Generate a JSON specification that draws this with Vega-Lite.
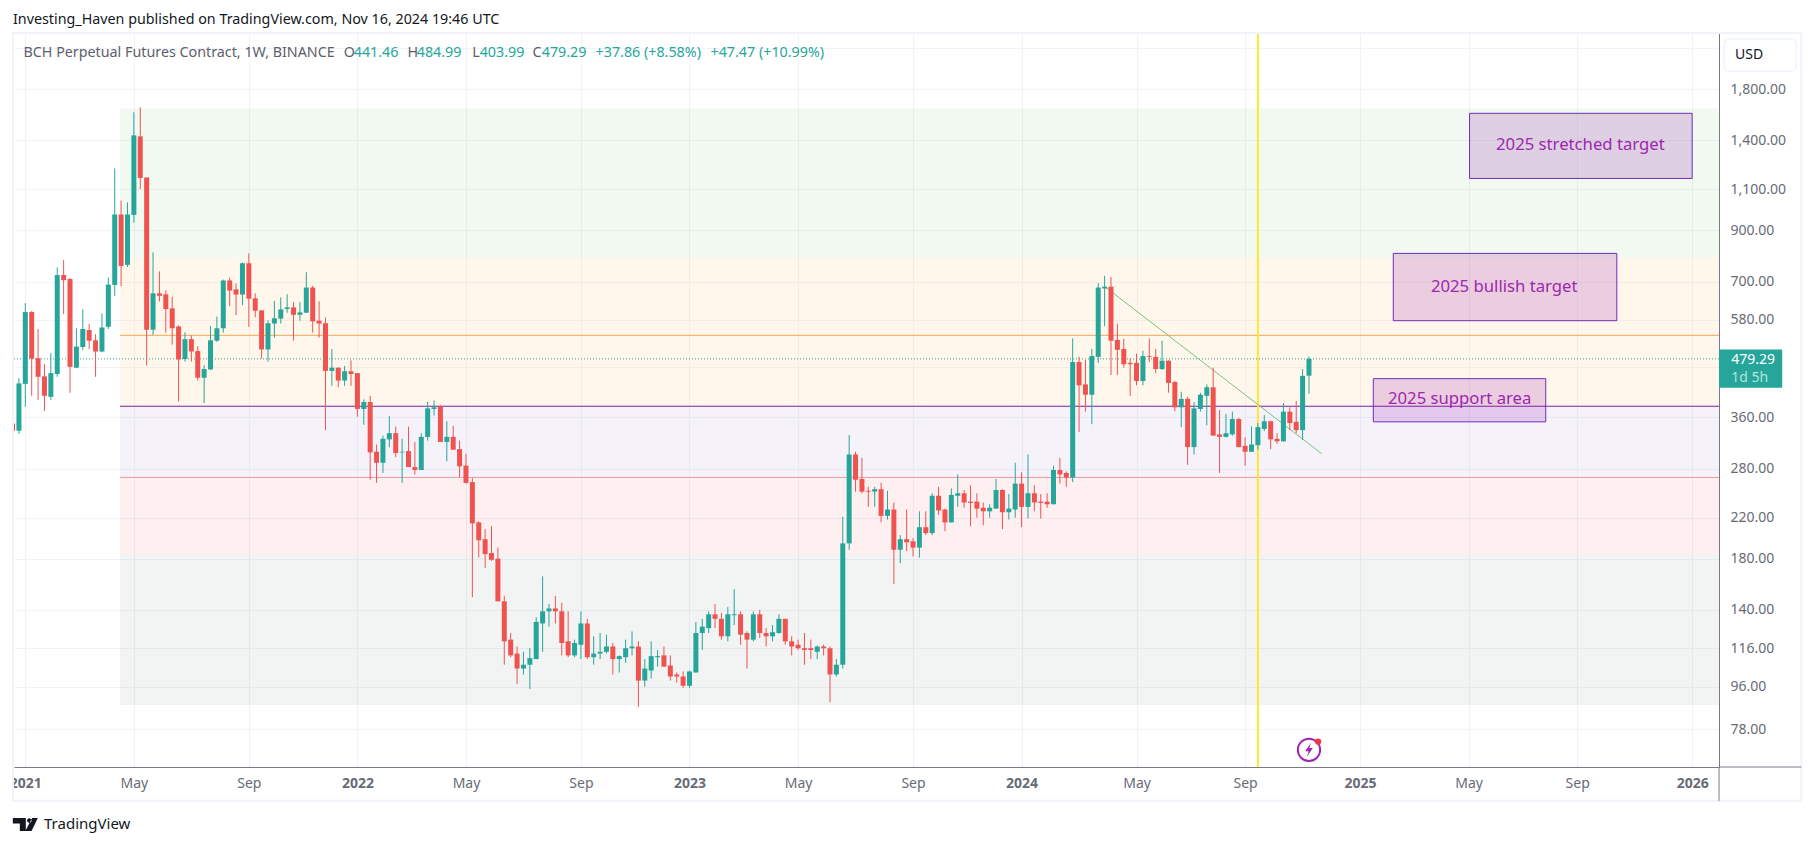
{
"$schema":"https://vega.github.io/schema/vega-lite/v6.json",
"width":1705,"height":734,
"autosize":{"type":"none"},
"padding":{"left":14,"top":33,"right":95,"bottom":79},
"background":"#ffffff",
"view":{"stroke":null},
"config":{"font":"Noto Sans","axis":{"labelFont":"Noto Sans"},"text":{"font":"Noto Sans"}},
"resolve":{"scale":{"color":"independent"}},
"datasets":{
"candles":[
{"d":"2020-12-21","o":349,"h":349,"l":337,"c":337,"s":"d"},
{"d":"2020-12-28","o":337,"h":436,"l":332,"c":425,"s":"u"},
{"d":"2021-01-04","o":424,"h":630,"l":379,"c":603,"s":"u"},
{"d":"2021-01-11","o":603,"h":606,"l":400,"c":480,"s":"d"},
{"d":"2021-01-18","o":481,"h":555,"l":392,"c":439,"s":"d"},
{"d":"2021-01-25","o":440,"h":467,"l":371,"c":400,"s":"d"},
{"d":"2021-02-01","o":398,"h":493,"l":392,"c":447,"s":"u"},
{"d":"2021-02-08","o":445,"h":750,"l":439,"c":723,"s":"u"},
{"d":"2021-02-15","o":723,"h":778,"l":597,"c":705,"s":"d"},
{"d":"2021-02-22","o":709,"h":712,"l":406,"c":461,"s":"d"},
{"d":"2021-03-01","o":459,"h":557,"l":459,"c":509,"s":"u"},
{"d":"2021-03-08","o":508,"h":611,"l":501,"c":555,"s":"u"},
{"d":"2021-03-15","o":552,"h":569,"l":503,"c":524,"s":"d"},
{"d":"2021-03-22","o":525,"h":541,"l":439,"c":497,"s":"d"},
{"d":"2021-03-29","o":497,"h":599,"l":495,"c":559,"s":"u"},
{"d":"2021-04-05","o":561,"h":714,"l":555,"c":690,"s":"u"},
{"d":"2021-04-12","o":689,"h":1220,"l":653,"c":973,"s":"u"},
{"d":"2021-04-19","o":973,"h":1042,"l":685,"c":756,"s":"d"},
{"d":"2021-04-26","o":760,"h":1032,"l":752,"c":973,"s":"u"},
{"d":"2021-05-03","o":971,"h":1606,"l":935,"c":1434,"s":"u"},
{"d":"2021-05-10","o":1427,"h":1645,"l":1102,"c":1164,"s":"d"},
{"d":"2021-05-17","o":1166,"h":1166,"l":464,"c":553,"s":"d"},
{"d":"2021-05-24","o":553,"h":808,"l":539,"c":661,"s":"u"},
{"d":"2021-05-31","o":661,"h":736,"l":635,"c":653,"s":"d"},
{"d":"2021-06-07","o":658,"h":671,"l":545,"c":612,"s":"d"},
{"d":"2021-06-14","o":614,"h":650,"l":514,"c":557,"s":"d"},
{"d":"2021-06-21","o":562,"h":565,"l":389,"c":478,"s":"d"},
{"d":"2021-06-28","o":479,"h":546,"l":473,"c":528,"s":"u"},
{"d":"2021-07-05","o":528,"h":538,"l":473,"c":497,"s":"d"},
{"d":"2021-07-12","o":498,"h":510,"l":431,"c":437,"s":"d"},
{"d":"2021-07-19","o":437,"h":465,"l":386,"c":456,"s":"u"},
{"d":"2021-07-26","o":455,"h":563,"l":455,"c":525,"s":"u"},
{"d":"2021-08-02","o":524,"h":590,"l":521,"c":557,"s":"u"},
{"d":"2021-08-09","o":557,"h":707,"l":545,"c":704,"s":"u"},
{"d":"2021-08-16","o":704,"h":714,"l":621,"c":670,"s":"d"},
{"d":"2021-08-23","o":674,"h":694,"l":594,"c":657,"s":"d"},
{"d":"2021-08-30","o":657,"h":769,"l":624,"c":766,"s":"u"},
{"d":"2021-09-06","o":766,"h":804,"l":561,"c":644,"s":"d"},
{"d":"2021-09-13","o":645,"h":661,"l":588,"c":607,"s":"d"},
{"d":"2021-09-20","o":608,"h":609,"l":480,"c":502,"s":"d"},
{"d":"2021-09-27","o":502,"h":579,"l":473,"c":571,"s":"u"},
{"d":"2021-10-04","o":570,"h":637,"l":532,"c":585,"s":"u"},
{"d":"2021-10-11","o":584,"h":648,"l":570,"c":611,"s":"u"},
{"d":"2021-10-18","o":612,"h":658,"l":601,"c":617,"s":"u"},
{"d":"2021-10-25","o":617,"h":633,"l":524,"c":595,"s":"d"},
{"d":"2021-11-01","o":595,"h":633,"l":578,"c":602,"s":"u"},
{"d":"2021-11-08","o":601,"h":733,"l":601,"c":680,"s":"u"},
{"d":"2021-11-15","o":680,"h":686,"l":545,"c":576,"s":"d"},
{"d":"2021-11-22","o":578,"h":636,"l":532,"c":570,"s":"d"},
{"d":"2021-11-29","o":571,"h":587,"l":338,"c":452,"s":"d"},
{"d":"2021-12-06","o":452,"h":503,"l":420,"c":459,"s":"u"},
{"d":"2021-12-13","o":459,"h":460,"l":417,"c":431,"s":"d"},
{"d":"2021-12-20","o":431,"h":463,"l":420,"c":451,"s":"u"},
{"d":"2021-12-27","o":451,"h":476,"l":420,"c":445,"s":"d"},
{"d":"2022-01-03","o":447,"h":447,"l":361,"c":375,"s":"d"},
{"d":"2022-01-10","o":375,"h":393,"l":347,"c":388,"s":"u"},
{"d":"2022-01-17","o":388,"h":400,"l":265,"c":303,"s":"d"},
{"d":"2022-01-24","o":304,"h":315,"l":261,"c":288,"s":"d"},
{"d":"2022-01-31","o":288,"h":329,"l":274,"c":324,"s":"u"},
{"d":"2022-02-07","o":323,"h":362,"l":311,"c":333,"s":"u"},
{"d":"2022-02-14","o":333,"h":344,"l":296,"c":302,"s":"d"},
{"d":"2022-02-21","o":303,"h":324,"l":261,"c":304,"s":"u"},
{"d":"2022-02-28","o":305,"h":344,"l":282,"c":282,"s":"d"},
{"d":"2022-03-07","o":282,"h":319,"l":272,"c":278,"s":"d"},
{"d":"2022-03-14","o":278,"h":333,"l":278,"c":327,"s":"u"},
{"d":"2022-03-21","o":327,"h":388,"l":321,"c":376,"s":"u"},
{"d":"2022-03-28","o":375,"h":391,"l":363,"c":378,"s":"u"},
{"d":"2022-04-04","o":379,"h":382,"l":319,"c":319,"s":"d"},
{"d":"2022-04-11","o":319,"h":353,"l":290,"c":327,"s":"u"},
{"d":"2022-04-18","o":327,"h":345,"l":307,"c":307,"s":"d"},
{"d":"2022-04-25","o":308,"h":321,"l":268,"c":283,"s":"d"},
{"d":"2022-05-02","o":284,"h":301,"l":260,"c":261,"s":"d"},
{"d":"2022-05-09","o":262,"h":267,"l":149,"c":214,"s":"d"},
{"d":"2022-05-16","o":215,"h":216,"l":181,"c":197,"s":"d"},
{"d":"2022-05-23","o":198,"h":208,"l":172,"c":184,"s":"d"},
{"d":"2022-05-30","o":185,"h":211,"l":178,"c":179,"s":"d"},
{"d":"2022-06-06","o":180,"h":190,"l":146,"c":146,"s":"d"},
{"d":"2022-06-13","o":146,"h":150,"l":107,"c":120,"s":"d"},
{"d":"2022-06-20","o":121,"h":125,"l":111,"c":112,"s":"d"},
{"d":"2022-06-27","o":113,"h":117,"l":97.4,"c":105,"s":"d"},
{"d":"2022-07-04","o":105,"h":114,"l":102,"c":107,"s":"u"},
{"d":"2022-07-11","o":107,"h":116,"l":95,"c":110.5,"s":"u"},
{"d":"2022-07-18","o":110,"h":135,"l":110,"c":132,"s":"u"},
{"d":"2022-07-25","o":131,"h":165,"l":114,"c":139,"s":"u"},
{"d":"2022-08-01","o":139,"h":144,"l":129,"c":141,"s":"u"},
{"d":"2022-08-08","o":141,"h":150,"l":131,"c":139,"s":"d"},
{"d":"2022-08-15","o":139,"h":145,"l":112,"c":119,"s":"d"},
{"d":"2022-08-22","o":120,"h":139,"l":111,"c":112,"s":"d"},
{"d":"2022-08-29","o":112,"h":121,"l":111,"c":119,"s":"u"},
{"d":"2022-09-05","o":118,"h":139,"l":110,"c":131,"s":"u"},
{"d":"2022-09-12","o":131,"h":134,"l":110,"c":111,"s":"d"},
{"d":"2022-09-19","o":111,"h":123,"l":107,"c":113,"s":"u"},
{"d":"2022-09-26","o":113,"h":125,"l":110,"c":114,"s":"u"},
{"d":"2022-10-03","o":114,"h":124,"l":113,"c":117,"s":"u"},
{"d":"2022-10-10","o":117,"h":119,"l":102,"c":110,"s":"d"},
{"d":"2022-10-17","o":110,"h":112,"l":103,"c":111.6,"s":"u"},
{"d":"2022-10-24","o":111,"h":121,"l":108,"c":116,"s":"u"},
{"d":"2022-10-31","o":116,"h":126,"l":112,"c":117,"s":"u"},
{"d":"2022-11-07","o":117,"h":120,"l":87,"c":99,"s":"d"},
{"d":"2022-11-14","o":99,"h":110,"l":96,"c":105,"s":"u"},
{"d":"2022-11-21","o":104,"h":120,"l":100,"c":111.6,"s":"u"},
{"d":"2022-11-28","o":111,"h":115,"l":106,"c":111.6,"s":"u"},
{"d":"2022-12-05","o":112,"h":117,"l":106,"c":106,"s":"d"},
{"d":"2022-12-12","o":106.6,"h":112,"l":99,"c":101,"s":"d"},
{"d":"2022-12-19","o":102,"h":103,"l":98,"c":101,"s":"d"},
{"d":"2022-12-26","o":101,"h":103.5,"l":95.5,"c":96.5,"s":"d"},
{"d":"2023-01-02","o":96.5,"h":104,"l":95.5,"c":103.5,"s":"u"},
{"d":"2023-01-09","o":103,"h":132,"l":103,"c":125,"s":"u"},
{"d":"2023-01-16","o":125,"h":134,"l":115,"c":129,"s":"u"},
{"d":"2023-01-23","o":128,"h":139,"l":125,"c":137,"s":"u"},
{"d":"2023-01-30","o":137,"h":144,"l":128,"c":134,"s":"d"},
{"d":"2023-02-06","o":134,"h":138,"l":121,"c":123,"s":"d"},
{"d":"2023-02-13","o":123,"h":142,"l":120,"c":137,"s":"u"},
{"d":"2023-02-20","o":136.4,"h":155,"l":130,"c":137,"s":"u"},
{"d":"2023-02-27","o":137,"h":139,"l":118,"c":124,"s":"d"},
{"d":"2023-03-06","o":125,"h":126,"l":105,"c":121,"s":"d"},
{"d":"2023-03-13","o":121,"h":139,"l":120,"c":137,"s":"u"},
{"d":"2023-03-20","o":137,"h":140,"l":122,"c":125,"s":"d"},
{"d":"2023-03-27","o":125,"h":128,"l":117,"c":123,"s":"d"},
{"d":"2023-04-03","o":123,"h":130,"l":120,"c":125.5,"s":"u"},
{"d":"2023-04-10","o":125,"h":137,"l":124.5,"c":134,"s":"u"},
{"d":"2023-04-17","o":134,"h":134,"l":118,"c":120,"s":"d"},
{"d":"2023-04-24","o":120,"h":123,"l":112,"c":117,"s":"d"},
{"d":"2023-05-01","o":118,"h":121,"l":115,"c":116,"s":"d"},
{"d":"2023-05-08","o":116,"h":125,"l":107,"c":115,"s":"d"},
{"d":"2023-05-15","o":116,"h":121,"l":110,"c":115,"s":"d"},
{"d":"2023-05-22","o":114,"h":117.5,"l":110,"c":117,"s":"u"},
{"d":"2023-05-29","o":117,"h":118,"l":112,"c":116,"s":"d"},
{"d":"2023-06-05","o":116,"h":117,"l":89,"c":102,"s":"d"},
{"d":"2023-06-12","o":102,"h":110,"l":101,"c":107,"s":"u"},
{"d":"2023-06-19","o":107,"h":221,"l":105,"c":194,"s":"u"},
{"d":"2023-06-26","o":194,"h":330,"l":188,"c":300,"s":"u"},
{"d":"2023-07-03","o":300,"h":304,"l":250,"c":265,"s":"d"},
{"d":"2023-07-10","o":266,"h":295,"l":248,"c":250,"s":"d"},
{"d":"2023-07-17","o":251,"h":256,"l":232,"c":250,"s":"d"},
{"d":"2023-07-24","o":250,"h":256,"l":232,"c":253,"s":"u"},
{"d":"2023-07-31","o":253,"h":261,"l":215,"c":222,"s":"d"},
{"d":"2023-08-07","o":222,"h":251,"l":218,"c":229,"s":"u"},
{"d":"2023-08-14","o":229,"h":237,"l":159,"c":188,"s":"d"},
{"d":"2023-08-21","o":188,"h":202,"l":176,"c":198,"s":"u"},
{"d":"2023-08-28","o":198,"h":229,"l":187,"c":195,"s":"d"},
{"d":"2023-09-04","o":196,"h":199,"l":182,"c":190,"s":"d"},
{"d":"2023-09-11","o":190,"h":227,"l":181,"c":210,"s":"u"},
{"d":"2023-09-18","o":210,"h":227,"l":202,"c":204,"s":"d"},
{"d":"2023-09-25","o":204,"h":248,"l":202,"c":245,"s":"u"},
{"d":"2023-10-02","o":245,"h":256,"l":223,"c":228,"s":"d"},
{"d":"2023-10-09","o":229,"h":230,"l":206,"c":215,"s":"d"},
{"d":"2023-10-16","o":215,"h":254,"l":215,"c":246,"s":"u"},
{"d":"2023-10-23","o":245,"h":272,"l":232,"c":248,"s":"u"},
{"d":"2023-10-30","o":248,"h":252,"l":231,"c":237,"s":"d"},
{"d":"2023-11-06","o":238,"h":258,"l":211,"c":236.5,"s":"d"},
{"d":"2023-11-13","o":238,"h":248,"l":220,"c":230,"s":"d"},
{"d":"2023-11-20","o":231,"h":237,"l":212,"c":227,"s":"d"},
{"d":"2023-11-27","o":227,"h":235,"l":220,"c":231,"s":"u"},
{"d":"2023-12-04","o":230,"h":266,"l":230,"c":252,"s":"u"},
{"d":"2023-12-11","o":252,"h":253,"l":208,"c":226,"s":"d"},
{"d":"2023-12-18","o":226,"h":247,"l":218,"c":230,"s":"u"},
{"d":"2023-12-25","o":229,"h":288,"l":220,"c":260,"s":"u"},
{"d":"2024-01-01","o":260,"h":275,"l":210,"c":232,"s":"d"},
{"d":"2024-01-08","o":232,"h":300,"l":219,"c":248,"s":"u"},
{"d":"2024-01-15","o":248,"h":258,"l":227,"c":237,"s":"d"},
{"d":"2024-01-22","o":238,"h":247,"l":219,"c":236.5,"s":"d"},
{"d":"2024-01-29","o":238,"h":248,"l":231,"c":235,"s":"d"},
{"d":"2024-02-05","o":235,"h":284,"l":235,"c":278,"s":"u"},
{"d":"2024-02-12","o":278,"h":295,"l":260,"c":272,"s":"d"},
{"d":"2024-02-19","o":274,"h":276,"l":256,"c":268,"s":"d"},
{"d":"2024-02-26","o":268,"h":530,"l":262,"c":472,"s":"u"},
{"d":"2024-03-04","o":472,"h":484,"l":335,"c":421,"s":"d"},
{"d":"2024-03-11","o":423,"h":477,"l":370,"c":402,"s":"d"},
{"d":"2024-03-18","o":402,"h":503,"l":348,"c":486,"s":"u"},
{"d":"2024-03-25","o":484,"h":695,"l":470,"c":680,"s":"u"},
{"d":"2024-04-01","o":677,"h":720,"l":563,"c":683,"s":"u"},
{"d":"2024-04-08","o":683,"h":716,"l":443,"c":524,"s":"d"},
{"d":"2024-04-15","o":526,"h":569,"l":443,"c":501,"s":"d"},
{"d":"2024-04-22","o":503,"h":529,"l":459,"c":467,"s":"d"},
{"d":"2024-04-29","o":470,"h":481,"l":400,"c":467,"s":"d"},
{"d":"2024-05-06","o":470,"h":492,"l":421,"c":430,"s":"d"},
{"d":"2024-05-13","o":430,"h":499,"l":421,"c":486,"s":"u"},
{"d":"2024-05-20","o":486,"h":530,"l":472,"c":484,"s":"d"},
{"d":"2024-05-27","o":484,"h":503,"l":447,"c":456,"s":"d"},
{"d":"2024-06-03","o":456,"h":524,"l":454,"c":475,"s":"u"},
{"d":"2024-06-10","o":475,"h":476,"l":406,"c":426,"s":"d"},
{"d":"2024-06-17","o":428,"h":430,"l":371,"c":378,"s":"d"},
{"d":"2024-06-24","o":378,"h":408,"l":343,"c":394,"s":"u"},
{"d":"2024-07-01","o":394,"h":398,"l":285,"c":311,"s":"d"},
{"d":"2024-07-08","o":311,"h":388,"l":300,"c":376,"s":"u"},
{"d":"2024-07-15","o":375,"h":406,"l":370,"c":402,"s":"u"},
{"d":"2024-07-22","o":400,"h":423,"l":346,"c":417,"s":"u"},
{"d":"2024-07-29","o":417,"h":459,"l":329,"c":329,"s":"d"},
{"d":"2024-08-05","o":331,"h":373,"l":274,"c":327,"s":"d"},
{"d":"2024-08-12","o":327,"h":366,"l":326,"c":333,"s":"u"},
{"d":"2024-08-19","o":331,"h":370,"l":329,"c":357,"s":"u"},
{"d":"2024-08-26","o":357,"h":359,"l":311,"c":311,"s":"d"},
{"d":"2024-09-02","o":313,"h":326,"l":284,"c":304,"s":"d"},
{"d":"2024-09-09","o":304,"h":344,"l":304,"c":315,"s":"u"},
{"d":"2024-09-16","o":314,"h":350,"l":307,"c":343,"s":"u"},
{"d":"2024-09-23","o":340,"h":364,"l":336,"c":353,"s":"u"},
{"d":"2024-09-30","o":353,"h":354,"l":308,"c":323,"s":"d"},
{"d":"2024-10-07","o":324,"h":333,"l":316,"c":320,"s":"d"},
{"d":"2024-10-14","o":320,"h":386,"l":319,"c":370,"s":"u"},
{"d":"2024-10-21","o":370,"h":378,"l":338,"c":350,"s":"d"},
{"d":"2024-10-28","o":352,"h":390,"l":333,"c":338,"s":"d"},
{"d":"2024-11-04","o":338,"h":456,"l":322,"c":441,"s":"u"},
{"d":"2024-11-11","o":441.46,"h":484.99,"l":403.99,"c":479.29,"s":"u"}
]
},
"encoding":{
"x":{"field":"d","type":"temporal","scale":{"type":"utc","padding":0,"domain":["2020-12-22T14:24:00Z","2026-02-03T10:00:00Z"]},
 "axis":{"title":null,"orient":"bottom","values":["2021-01-04","2021-05-03","2021-09-06","2022-01-03","2022-05-02","2022-09-05","2023-01-02","2023-05-01","2023-09-04","2024-01-01","2024-05-06","2024-09-02","2025-01-06","2025-05-05","2025-09-01","2026-01-05"],
 "labelExpr":"utcmonth(datum.value)==0?utcFormat(datum.value,'%Y'):utcFormat(datum.value,'%b')",
 "labelFontWeight":{"condition":{"test":"utcmonth(datum.value)==0","value":"bold"},"value":"normal"},
 "labelColor":"#686b76","labelFontSize":14,"labelPadding":9,"ticks":false,"domain":true,"domainColor":"#787b86","domainWidth":1,"grid":true,"gridColor":"#f0f3fa","gridWidth":1,"labelOverlap":false,"labelFlush":false,"labelBound":false}},
"y":{"field":"p","type":"quantitative","scale":{"type":"log","domain":[64.8,2369],"nice":false,"zero":false},
 "axis":{"title":null,"orient":"right","values":[78,96,116,140,180,220,280,360,460,580,700,900,1100,1400,1800,2200],
 "labelExpr":"(datum.value==460||datum.value==2200)?'':format(datum.value,',.2f')",
 "labelColor":"#686b76","labelFontSize":14,"labelPadding":11,"ticks":false,"domain":true,"domainColor":"#787b86","domainWidth":1,"grid":true,"gridColor":"#f0f3fa","gridWidth":1,"labelOverlap":false,"labelFlush":false,"labelBound":false}}
},
"layer":[
{"data":{"values":[
{"zone":"stretched","d":"2021-04-17T19:00:00Z","d2":"2026-02-03T10:00:00Z","p":1637,"p2":788},
{"zone":"bullish","d":"2021-04-17T19:00:00Z","d2":"2026-02-03T10:00:00Z","p":788,"p2":380},
{"zone":"support","d":"2021-04-17T19:00:00Z","d2":"2026-02-03T10:00:00Z","p":380,"p2":268},
{"zone":"risk","d":"2021-04-17T19:00:00Z","d2":"2026-02-03T10:00:00Z","p":268,"p2":183.7},
{"zone":"base","d":"2021-04-17T19:00:00Z","d2":"2026-02-03T10:00:00Z","p":183.7,"p2":87.8}]},
"mark":{"type":"rect","fillOpacity":0.08,"strokeOpacity":0.08,"strokeWidth":1},
"encoding":{"x2":{"field":"d2"},"y2":{"field":"p2"},
"color":{"field":"zone","type":"nominal","legend":null,"scale":{"domain":["stretched","bullish","support","risk","base"],"range":["#4caf50","#ff9800","#7e57c2","#f23645","#5d606b"]}}}},
{"data":{"values":[
{"level":"resistance","d":"2021-04-17T19:00:00Z","d2":"2026-02-03T10:00:00Z","p":538},
{"level":"support","d":"2021-04-17T19:00:00Z","d2":"2026-02-03T10:00:00Z","p":380},
{"level":"floor","d":"2021-04-17T19:00:00Z","d2":"2026-02-03T10:00:00Z","p":268}]},
"mark":{"type":"rule","strokeWidth":1},
"encoding":{"x2":{"field":"d2"},
"color":{"field":"level","type":"nominal","legend":null,"scale":{"domain":["resistance","support","floor"],"range":["#f2a65a","#7b1fa2","#f09aa0"]}}}},
{"data":{"values":[{"d":"2024-09-16","p":64.8,"p2":2369}]},"mark":{"type":"rule","color":"#fde82f","strokeWidth":2},"encoding":{"y2":{"field":"p2"}}},
{"data":{"values":[{"d":"2024-04-02T12:00:00Z","p":680},{"d":"2024-11-25","p":301}]},"mark":{"type":"line","color":"#7cc27a","strokeWidth":1}},
{"data":{"values":[{"d":"2020-12-22T14:24:00Z","d2":"2026-02-03T10:00:00Z","p":479.29}]},"mark":{"type":"rule","color":"#26a69a","strokeWidth":1,"strokeDash":[1,2]},"encoding":{"x2":{"field":"d2"}}},
{"data":{"name":"candles"},"mark":{"type":"rule","strokeWidth":1,"clip":true},
"encoding":{"y":{"field":"l","type":"quantitative","axis":{"title":null}},"y2":{"field":"h"},
"color":{"field":"s","type":"nominal","legend":null,"scale":{"domain":["u","d"],"range":["#26a69a","#ef5350"]}}}},
{"data":{"name":"candles"},"mark":{"type":"bar","size":5,"clip":true},
"encoding":{"y":{"field":"o","type":"quantitative","axis":{"title":null}},"y2":{"field":"c"},
"color":{"field":"s","type":"nominal","legend":null,"scale":{"domain":["u","d"],"range":["#26a69a","#ef5350"]}}}},
{"data":{"values":[
{"d":"2025-05-06T00:00:00Z","d2":"2026-01-05","p":1598,"p2":1161},
{"d":"2025-02-11T10:00:00Z","d2":"2025-10-14T10:00:00Z","p":804,"p2":578},
{"d":"2025-01-20T12:00:00Z","d2":"2025-07-28T12:00:00Z","p":435,"p2":352}]},
"mark":{"type":"rect","fill":"#9c27b0","fillOpacity":0.2,"stroke":"#6f2dbd","strokeWidth":1},
"encoding":{"x2":{"field":"d2"},"y2":{"field":"p2"}}},
{"data":{"values":[
{"t":"2025 stretched target","d":"2025-09-04T12:00:00Z","p":1368},
{"t":"2025 bullish target","d":"2025-06-13T00:00:00Z","p":682},
{"t":"2025 support area","d":"2025-04-25T05:00:00Z","p":393}]},
"mark":{"type":"text","fontSize":16.7,"color":"#9c27b0","align":"center","baseline":"middle"},
"encoding":{"text":{"field":"t"}}},
{"data":{"values":[{"d":"2026-02-03T10:00:00Z","d2":"2026-04-13T17:00:00Z","p":502,"p2":416}]},
"mark":{"type":"rect","fill":"#26a69a","cornerRadius":1},"encoding":{"x2":{"field":"d2"},"y2":{"field":"p2"}}},
{"data":{"values":[{"t":"479.29","d":"2026-02-16T17:00:00Z","p":477}]},
"mark":{"type":"text","fontSize":14,"color":"#ffffff","align":"left","baseline":"middle"},"encoding":{"text":{"field":"t"}}},
{"data":{"values":[{"t":"1d 5h","d":"2026-02-16T17:00:00Z","p":437}]},
"mark":{"type":"text","fontSize":14,"color":"#b6e3de","align":"left","baseline":"middle"},"encoding":{"text":{"field":"t"}}},
{"data":{"values":[{"d":"2026-02-09","d2":"2026-04-29","p":2299,"p2":1966}]},
"mark":{"type":"rect","fill":"#ffffff","stroke":"#f0f3fa","strokeWidth":1.5,"cornerRadius":5},"encoding":{"x2":{"field":"d2"},"y2":{"field":"p2"}}},
{"data":{"values":[{"t":"USD","d":"2026-02-21","p":2131}]},
"mark":{"type":"text","fontSize":14,"color":"#131722","align":"left","baseline":"middle"},"encoding":{"text":{"field":"t"}}},
{"data":{"values":[{"t":"Investing_Haven published on TradingView.com, Nov 16, 2024 19:46 UTC","d":"2020-12-21T12:00:00Z","p":2524}]},
"mark":{"type":"text","fontSize":14.3,"color":"#131722","align":"left","baseline":"middle"},"encoding":{"text":{"field":"t"}}},
{"data":{"values":[
{"t":"BCH Perpetual Futures Contract, 1W, BINANCE","d":"2021-01-02","p":2147},
{"t":"O","d":"2021-12-19","p":2147},{"t":"H","d":"2022-02-27","p":2147},{"t":"L","d":"2022-05-09","p":2147},{"t":"C","d":"2022-07-14","p":2147}]},
"mark":{"type":"text","fontSize":14.3,"color":"#5d606b","align":"left","baseline":"middle"},"encoding":{"text":{"field":"t"}}},
{"data":{"values":[
{"t":"441.46","d":"2021-12-30","p":2147},{"t":"484.99","d":"2022-03-09","p":2147},{"t":"403.99","d":"2022-05-17","p":2147},{"t":"479.29","d":"2022-07-24","p":2147},
{"t":"+37.86 (+8.58%)","d":"2022-09-21","p":2147},{"t":"+47.47 (+10.99%)","d":"2023-01-25","p":2147}]},
"mark":{"type":"text","fontSize":14.3,"color":"#26a69a","align":"left","baseline":"middle"},"encoding":{"text":{"field":"t"}}},
{"data":{"values":[{"d":"2024-11-11","p":70.5}]},"mark":{"type":"point","shape":"circle","size":500,"filled":false,"color":"#9c27b0","strokeWidth":2,"opacity":1}},
{"data":{"values":[{"d":"2024-11-11","p":70.5}]},"mark":{"type":"point","shape":"M0.3 -1 L-0.55 0.2 L-0.05 0.2 L-0.3 1 L0.55 -0.25 L0.05 -0.25 Z","size":196,"filled":true,"color":"#9c27b0","opacity":1}},
{"data":{"values":[{"d":"2024-11-21","p":73.4}]},"mark":{"type":"point","shape":"circle","size":40,"filled":true,"color":"#f23645","opacity":1}},
{"data":{"values":[{"d":"2021-01-04","p":48.9}]},"mark":{"type":"point","shape":"M-1 -0.52 H0.04 V0.52 H-0.44 V-0.08 H-1 Z M0.14 -0.32 A0.18 0.18 0 1 0 0.5 -0.32 A0.18 0.18 0 1 0 0.14 -0.32 Z M0.55 -0.52 H1 L0.5 0.52 H0 Z","size":625,"filled":true,"color":"#131722","opacity":1}},
{"data":{"values":[{"t":"TradingView","d":"2021-01-24T12:00:00Z","p":48.9}]},
"mark":{"type":"text","fontSize":15,"color":"#131722","align":"left","baseline":"middle"},"encoding":{"text":{"field":"t"}}},
{"data":{"values":[{"d":"2020-12-01","d2":"2020-12-21T12:00:00Z","p":64,"p2":55.5}]},
"mark":{"type":"rect","fill":"#ffffff"},"encoding":{"x2":{"field":"d2"},"y2":{"field":"p2"}}},
{"data":{"values":[{"d":"2020-12-21T12:00:00Z","d2":"2026-05-04T17:00:00Z","p":54.9,"p2":2369}]},
"mark":{"type":"rect","fill":null,"stroke":"#f0f3fa","strokeWidth":2},"encoding":{"x2":{"field":"d2"},"y2":{"field":"p2"}}},
{"data":{"values":[{"d":"2026-02-03T10:00:00Z","d2":"2026-05-04T17:00:00Z","p":64.8}]},
"mark":{"type":"rule","color":"#787b86","strokeWidth":1},"encoding":{"x2":{"field":"d2"}}},
{"data":{"values":[{"d":"2026-02-03T10:00:00Z","p":64.8,"p2":54.9}]},
"mark":{"type":"rule","color":"#787b86","strokeWidth":1},"encoding":{"y2":{"field":"p2"}}}
]
}
